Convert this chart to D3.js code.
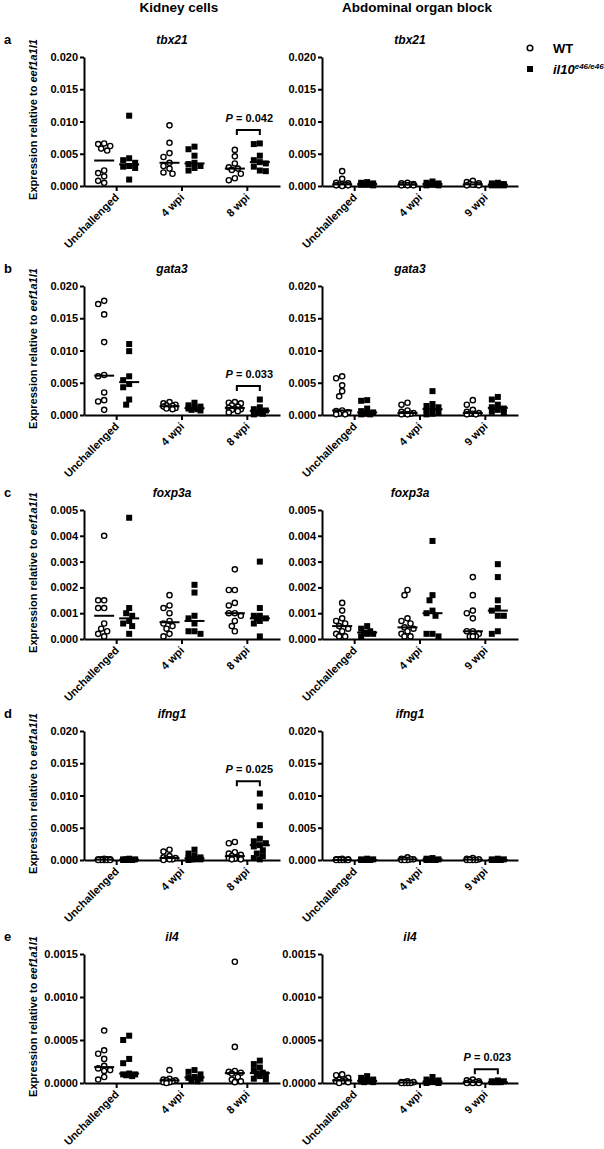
<!DOCTYPE html>
<html lang="en">
<head>
<meta charset="UTF-8">
<title>Expression relative to eef1a1l1</title>
<script src="https://d3js.org/d3.v7.min.js"></script>
<style>
  body { margin: 0; background: #fff; }
  svg { font-family: "Liberation Sans", Arial, sans-serif; font-weight: bold; }
  .axis path, .axis line { stroke: #000; stroke-width: 2px; }
  .axis text { font-size: 11px; font-weight: bold; fill: #000; }
</style>
</head>
<body>
<svg width="604" height="1149"></svg>
<script>
// groups on the x axis
const kidneyGroups = ["Unchallenged", "4 wpi", "8 wpi"];
const abdGroups = ["Unchallenged", "4 wpi", "9 wpi"];
const columnTitles = ["Kidney cells", "Abdominal organ block"];
const panelLetters = ["a", "b", "c", "d", "e"];
const genes = ["tbx21", "gata3", "foxp3a", "ifng1", "il4"];
const yMaxes = [0.020, 0.020, 0.005, 0.020, 0.0015];
const yStep = [0.005, 0.005, 0.001, 0.005, 0.0005];
const yDecimals = [3, 3, 3, 3, 4];

// values per group: [Unchallenged, 4 wpi, 8/9 wpi]
const tbx21KidneyWT = [
  [0.0066, 0.0065, 0.0062, 0.0058, 0.0055, 0.0024, 0.0020, 0.0015, 0.0008, 0.0005],
  [0.0094, 0.0067, 0.0051, 0.0045, 0.0036, 0.0031, 0.0027, 0.0021, 0.0019],
  [0.0056, 0.0046, 0.0035, 0.0029, 0.0027, 0.0025, 0.0019, 0.0012, 0.0009]];
const tbx21KidneyMut = [
  [0.0109, 0.0043, 0.0040, 0.0036, 0.0031, 0.0030, 0.0028, 0.0010],
  [0.0061, 0.0057, 0.0047, 0.0036, 0.0034, 0.0031, 0.0028, 0.0024],
  [0.0066, 0.0065, 0.0047, 0.0040, 0.0037, 0.0035, 0.0030, 0.0024, 0.0023]];
const tbx21AbdWT = [
  [0.0023, 0.0011, 0.0005, 0.0004, 0.0003, 0.0002, 0.0002, 0.0001, 0.0001, 0.0000],
  [0.0005, 0.0004, 0.0003, 0.0002, 0.0002, 0.0001, 0.0001, 0.0001],
  [0.0008, 0.0006, 0.0004, 0.0003, 0.0002, 0.0002, 0.0001, 0.0001]];
const tbx21AbdMut = [
  [0.0006, 0.0005, 0.0004, 0.0003, 0.0003, 0.0002, 0.0002, 0.0001],
  [0.0007, 0.0005, 0.0004, 0.0003, 0.0003, 0.0002, 0.0001, 0.0001],
  [0.0005, 0.0004, 0.0003, 0.0002, 0.0002, 0.0001, 0.0001, 0.0001]];

const gata3KidneyWT = [
  [0.0177, 0.0172, 0.0156, 0.0113, 0.0062, 0.0060, 0.0035, 0.0023, 0.0021, 0.0008],
  [0.0020, 0.0018, 0.0016, 0.0015, 0.0014, 0.0013, 0.0012, 0.0011, 0.0010, 0.0009],
  [0.0020, 0.0019, 0.0018, 0.0015, 0.0013, 0.0011, 0.0010, 0.0009, 0.0008, 0.0006, 0.0004]];
const gata3KidneyMut = [
  [0.0110, 0.0099, 0.0060, 0.0054, 0.0048, 0.0043, 0.0024, 0.0016],
  [0.0019, 0.0015, 0.0013, 0.0011, 0.0010, 0.0009, 0.0008, 0.0007],
  [0.0024, 0.0012, 0.0009, 0.0007, 0.0006, 0.0004, 0.0002, 0.0001]];
const gata3AbdWT = [
  [0.0060, 0.0057, 0.0046, 0.0037, 0.0029, 0.0007, 0.0006, 0.0004, 0.0002, 0.0001, 0.0001],
  [0.0019, 0.0016, 0.0007, 0.0005, 0.0003, 0.0002, 0.0002, 0.0001, 0.0001],
  [0.0023, 0.0016, 0.0008, 0.0005, 0.0003, 0.0002, 0.0002, 0.0001, 0.0001]];
const gata3AbdMut = [
  [0.0023, 0.0022, 0.0010, 0.0006, 0.0004, 0.0003, 0.0002, 0.0001, 0.0001],
  [0.0037, 0.0017, 0.0014, 0.0012, 0.0009, 0.0007, 0.0004, 0.0002, 0.0001],
  [0.0028, 0.0024, 0.0016, 0.0012, 0.0010, 0.0008, 0.0005, 0.0003]];

const foxp3aKidneyWT = [
  [0.0040, 0.0015, 0.0015, 0.0012, 0.0012, 0.0006, 0.0004, 0.0003, 0.0002, 0.0001],
  [0.0017, 0.0013, 0.0012, 0.0010, 0.0007, 0.0006, 0.0005, 0.0004, 0.0002, 0.0001],
  [0.0027, 0.0019, 0.0019, 0.0014, 0.0013, 0.0010, 0.0010, 0.0009, 0.0007, 0.0005, 0.0003]];
const foxp3aKidneyMut = [
  [0.0047, 0.0012, 0.0010, 0.0009, 0.0007, 0.0006, 0.0005, 0.0002],
  [0.0021, 0.0018, 0.0009, 0.0008, 0.0006, 0.0003, 0.0003, 0.0002],
  [0.0030, 0.0012, 0.0009, 0.0009, 0.0008, 0.0008, 0.0007, 0.0006, 0.0001]];
const foxp3aAbdWT = [
  [0.0014, 0.0011, 0.0008, 0.0007, 0.0006, 0.0005, 0.0004, 0.0003, 0.0002, 0.0001, 0.0001],
  [0.0019, 0.0017, 0.0008, 0.0007, 0.0006, 0.00045, 0.0004, 0.0003, 0.0002, 0.0001, 0.0001],
  [0.0024, 0.0017, 0.0011, 0.0010, 0.0008, 0.0003, 0.0003, 0.0002, 0.0001, 0.0001, 0.0001]];
const foxp3aAbdMut = [
  [0.0005, 0.0004, 0.0003, 0.00025, 0.0002, 0.0002, 0.0001],
  [0.0038, 0.0017, 0.0015, 0.0011, 0.0010, 0.0009, 0.0002, 0.0002, 0.0001],
  [0.0029, 0.0024, 0.0015, 0.0012, 0.0011, 0.0009, 0.0009, 0.0003, 0.0002]];

const ifng1KidneyWT = [
  [0.0002, 0.0001, 0.0001, 0.0001, 0.0001, 0.0000, 0.0000, 0.0000, 0.0000, 0.0000],
  [0.0016, 0.0013, 0.0006, 0.0004, 0.0003, 0.0002, 0.0001, 0.0001, 0.0000],
  [0.0028, 0.0026, 0.0012, 0.0010, 0.0008, 0.0006, 0.0004, 0.0003, 0.0002, 0.0001, 0.0001]];
const ifng1KidneyMut = [
  [0.0002, 0.0001, 0.0001, 0.0001, 0.0000, 0.0000, 0.0000, 0.0000],
  [0.0016, 0.0010, 0.0007, 0.0004, 0.0003, 0.0002, 0.0001, 0.0001, 0.0001, 0.0000],
  [0.0103, 0.0083, 0.0054, 0.0033, 0.0029, 0.0026, 0.0023, 0.0021, 0.0015, 0.0010, 0.0006, 0.0003, 0.0001]];
const ifng1AbdWT = [
  [0.0002, 0.0001, 0.0001, 0.0001, 0.0000, 0.0000, 0.0000, 0.0000, 0.0000],
  [0.0004, 0.0002, 0.0001, 0.0001, 0.0001, 0.0000, 0.0000, 0.0000],
  [0.0003, 0.0002, 0.0001, 0.0001, 0.0000, 0.0000, 0.0000, 0.0000]];
const ifng1AbdMut = [
  [0.0002, 0.0001, 0.0001, 0.0000, 0.0000, 0.0000, 0.0000],
  [0.0003, 0.0002, 0.0001, 0.0001, 0.0000, 0.0000, 0.0000],
  [0.0002, 0.0001, 0.0001, 0.0000, 0.0000, 0.0000, 0.0000]];

const il4KidneyWT = [
  [0.00061, 0.00038, 0.00034, 0.00028, 0.00020, 0.00017, 0.00015, 0.00014, 0.00007, 0.00004],
  [0.00015, 0.00005, 0.00004, 0.00003, 0.00003, 0.00002, 0.00001, 0.00001, 0.00000],
  [0.00141, 0.00042, 0.00014, 0.00013, 0.00012, 0.00011, 0.00007, 0.00004, 0.00002, 0.00001]];
const il4KidneyMut = [
  [0.00055, 0.00050, 0.00028, 0.00023, 0.00011, 0.00010, 0.00010, 0.00009, 0.00008],
  [0.00015, 0.00013, 0.00010, 0.00007, 0.00006, 0.00005, 0.00003, 0.00002],
  [0.00026, 0.00022, 0.00018, 0.00015, 0.00012, 0.00011, 0.00010, 0.00008, 0.00005, 0.00004]];
const il4AbdWT = [
  [0.00010, 0.00009, 0.00006, 0.00004, 0.00003, 0.00002, 0.00002, 0.00001, 0.00000],
  [0.00002, 0.00001, 0.00001, 0.00001, 0.00000, 0.00000, 0.00000, 0.00000],
  [0.00004, 0.00003, 0.00002, 0.00001, 0.00001, 0.00000, 0.00000, 0.00000]];
const il4AbdMut = [
  [0.00008, 0.00006, 0.00004, 0.00003, 0.00002, 0.00002, 0.00001, 0.00001],
  [0.00007, 0.00004, 0.00003, 0.00002, 0.00001, 0.00001, 0.00000, 0.00000],
  [0.00003, 0.00002, 0.00002, 0.00001, 0.00001, 0.00001, 0.00001]];

const wtData = [[tbx21KidneyWT, tbx21AbdWT], [gata3KidneyWT, gata3AbdWT], [foxp3aKidneyWT, foxp3aAbdWT],
                [ifng1KidneyWT, ifng1AbdWT], [il4KidneyWT, il4AbdWT]];
const mutData = [[tbx21KidneyMut, tbx21AbdMut], [gata3KidneyMut, gata3AbdMut], [foxp3aKidneyMut, foxp3aAbdMut],
                 [ifng1KidneyMut, ifng1AbdMut], [il4KidneyMut, il4AbdMut]];

// significance brackets: row, column, group index, bracket level (data units), P
const pRows = [0, 1, 3, 4];
const pCols = [0, 0, 0, 1];
const pGroups = [2, 2, 2, 2];
const pLevels = [0.0087, 0.0045, 0.0122, 0.00016];
const pLabels = ["0.042", "0.033", "0.025", "0.023"];

// layout
const rowTops = [57, 286, 510, 731, 954];
const colLefts = [84, 322];
const plotW = 196, plotH = 129;
const pairOffset = 12.5;

const svg = d3.select("svg");

columnTitles.forEach((t, c) => {
  svg.append("text")
    .attr("x", colLefts[c] + 95)
    .attr("y", 12)
    .attr("text-anchor", "middle")
    .style("font-size", "13.5px")
    .text(t);
});

// legend
svg.append("circle").attr("cx", 530).attr("cy", 48).attr("r", 2.8)
  .attr("fill", "#fff").attr("stroke", "#000").attr("stroke-width", 1.5);
svg.append("text").attr("x", 553).attr("y", 53).style("font-size", "13px").text("WT");
svg.append("rect").attr("x", 527).attr("y", 66).attr("width", 6).attr("height", 6).attr("fill", "#000");
const leg2 = svg.append("text").attr("x", 553).attr("y", 74).style("font-size", "13px").style("font-style", "italic");
leg2.append("tspan").text("il10");
leg2.append("tspan").attr("dy", -5).style("font-size", "8px").text("e46/e46");

// place points of one column so they don't overlap too much, like a dot plot
function swarm(values, cx, y) {
  const placed = [];
  const step = 3, minDist = 5.5, maxOff = 8;
  const sorted = values.slice().sort((a, b) => b - a);
  sorted.forEach(v => {
    const py = y(v);
    let best = 0, bestScore = -Infinity;
    for (let k = 0; k <= 4; k++) {
      const offs = k === 0 ? [0] : [-k * step, k * step];
      for (const off of offs) {
        if (Math.abs(off) > maxOff) continue;
        let dmin = Infinity;
        placed.forEach(p => {
          dmin = Math.min(dmin, Math.hypot(p.x - (cx + off), p.y - py));
        });
        if (dmin >= minDist) { best = off; bestScore = Infinity; break; }
        if (dmin > bestScore) { bestScore = dmin; best = off; }
      }
      if (bestScore === Infinity) break;
    }
    placed.push({ x: cx + best, y: py, v: v });
  });
  return placed;
}

genes.forEach((gene, r) => {
  const top = rowTops[r];
  svg.append("text")
    .attr("x", 4).attr("y", top - 13)
    .style("font-size", "13px")
    .text(panelLetters[r]);

  const yl = svg.append("text")
    .attr("transform", `translate(37,${top + plotH / 2 - 2}) rotate(-90)`)
    .attr("text-anchor", "middle")
    .style("font-size", "11px");
  yl.append("tspan").text("Expression relative to ");
  yl.append("tspan").style("font-style", "italic").text("eef1a1l1");

  [0, 1].forEach(c => {
    const groups = c === 0 ? kidneyGroups : abdGroups;
    const g = svg.append("g").attr("transform", `translate(${colLefts[c]},${top})`);

    const y = d3.scaleLinear().domain([0, yMaxes[r]]).range([plotH, 0]);
    const x = d3.scaleBand().domain(groups).range([0, plotW]);
    const cx = d => x(d) + x.bandwidth() / 2;

    g.append("text")
      .attr("x", plotW / 2 - 10).attr("y", -13)
      .attr("text-anchor", "middle")
      .style("font-size", "12px").style("font-style", "italic")
      .text(gene);

    const ticks = d3.range(0, Math.round(yMaxes[r] / yStep[r]) + 1).map(i => i * yStep[r]);
    g.append("g").attr("class", "axis")
      .call(d3.axisLeft(y).tickValues(ticks).tickFormat(d3.format(`.${yDecimals[r]}f`))
        .tickSize(4).tickSizeOuter(0).tickPadding(2));

    g.append("g").attr("class", "axis")
      .attr("transform", `translate(0,${plotH})`)
      .call(d3.axisBottom(x).tickSize(5).tickSizeOuter(0).tickFormat(""));

    groups.forEach(grp => {
      g.append("text")
        .attr("transform", `translate(${cx(grp) + 3},${plotH + 12}) rotate(-45)`)
        .attr("text-anchor", "end")
        .style("font-size", "11px")
        .text(grp);
    });

    groups.forEach((grp, gi) => {
      const wtVals = wtData[r][c][gi];
      const mutVals = mutData[r][c][gi];
      const wx = cx(grp) - pairOffset, mx = cx(grp) + pairOffset;

      swarm(wtVals, wx, y).forEach(p => {
        g.append("circle").attr("cx", p.x).attr("cy", p.y).attr("r", 2.6)
          .attr("fill", "#fff").attr("stroke", "#000").attr("stroke-width", 1.4);
      });
      swarm(mutVals, mx, y).forEach(p => {
        g.append("rect").attr("x", p.x - 3).attr("y", p.y - 3)
          .attr("width", 6).attr("height", 6).attr("fill", "#000");
      });

      [[wtVals, wx], [mutVals, mx]].forEach(([vals, px]) => {
        const m = d3.median(vals);
        g.append("line")
          .attr("x1", px - 10).attr("x2", px + 10)
          .attr("y1", y(m)).attr("y2", y(m))
          .attr("stroke", "#000").attr("stroke-width", 2);
      });
    });

    // P-value brackets
    pRows.forEach((pr, i) => {
      if (pr !== r || pCols[i] !== c) return;
      const grp = groups[pGroups[i]];
      const by = y(pLevels[i]);
      const x1 = cx(grp) - pairOffset + 2, x2 = cx(grp) + pairOffset;
      g.append("path")
        .attr("d", `M${x1},${by + 5}V${by}H${x2}V${by + 5}`)
        .attr("fill", "none").attr("stroke", "#000").attr("stroke-width", 2);
      const t = g.append("text")
        .attr("x", cx(grp) + 2).attr("y", by - 8)
        .attr("text-anchor", "middle")
        .style("font-size", "11px");
      t.append("tspan").style("font-style", "italic").text("P");
      t.append("tspan").text(" = " + pLabels[i]);
    });
  });
});
</script>
</body>
</html>
